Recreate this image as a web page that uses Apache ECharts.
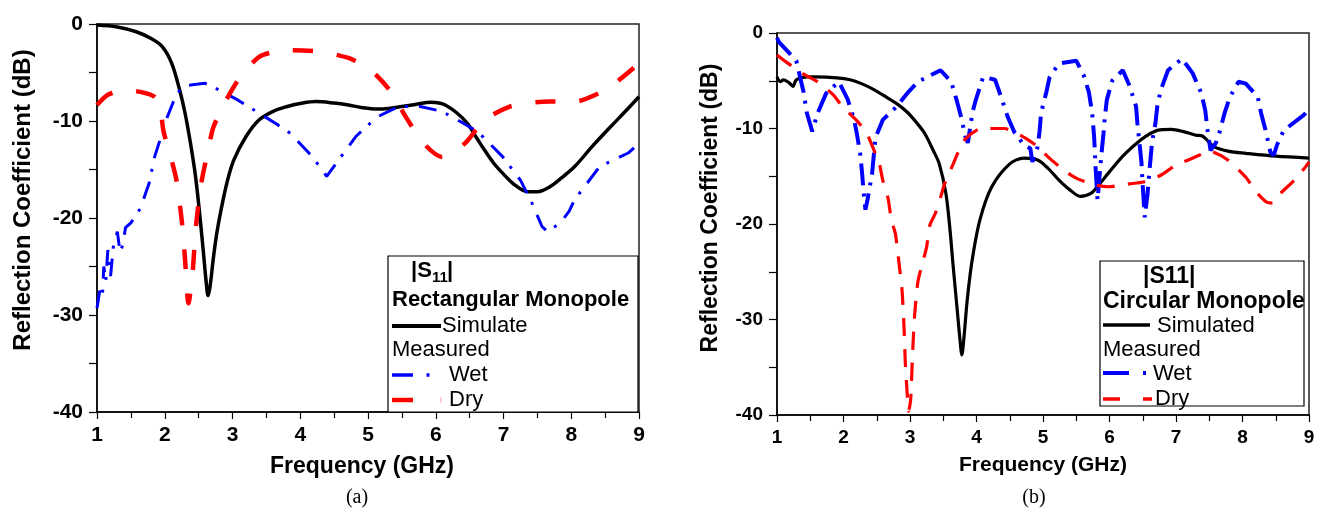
<!DOCTYPE html>
<html>
<head>
<meta charset="utf-8">
<script src="https://cdn.jsdelivr.net/npm/echarts@6/dist/echarts.min.js"></script>
<style>
  html, body { margin: 0; padding: 0; background: #fff; }
  #chart { width: 1323px; height: 515px; }
</style>
</head>
<body>
<div id="chart"></div>
<script>
// (a) rectangular monopole
const rectSimFreq = [1.0, 1.3, 1.58, 1.8, 1.96, 2.1, 2.22, 2.3, 2.38, 2.45, 2.51, 2.57, 2.61, 2.64, 2.67, 2.72, 2.77, 2.83, 2.92, 3.02, 3.2, 3.39, 3.6, 3.81, 4.0, 4.23, 4.5, 4.71, 4.9, 5.14, 5.3, 5.5, 5.7, 5.93, 6.05, 6.14, 6.3, 6.46, 6.6, 6.72, 6.85, 6.99, 7.15, 7.36, 7.5, 7.68, 7.85, 8.05, 8.3, 8.58, 8.8, 9.0]
const rectSimDb = [-0.1, -0.3, -0.8, -1.5, -2.3, -4.0, -6.8, -9.2, -12.3, -15.5, -19.2, -23.5, -26.5, -28.0, -27.0, -24.0, -21.5, -19.2, -16.3, -14.0, -11.6, -9.9, -9.0, -8.5, -8.2, -8.0, -8.15, -8.35, -8.6, -8.76, -8.7, -8.5, -8.3, -8.07, -8.15, -8.35, -9.1, -10.2, -11.7, -13.0, -14.3, -15.4, -16.5, -17.3, -17.3, -16.8, -15.9, -14.7, -12.7, -10.6, -9.0, -7.5]

const rectWetFreq = [1.0, 1.04, 1.08, 1.1, 1.13, 1.16, 1.2, 1.24, 1.3, 1.34, 1.38, 1.42, 1.5, 1.57, 1.64, 1.77, 1.85, 1.96, 2.02, 2.14, 2.25, 2.38, 2.59, 2.8, 3.07, 3.44, 3.65, 3.86, 4.18, 4.39, 4.6, 4.82, 5.13, 5.45, 5.77, 6.09, 6.4, 6.62, 6.99, 7.25, 7.41, 7.57, 7.65, 7.84, 7.97, 8.05, 8.42, 8.84, 9.0]
const rectWetDb = [-29.3, -27.5, -28.1, -25.0, -26.5, -23.3, -26.0, -23.0, -21.4, -23.5, -22.8, -21.0, -20.5, -19.8, -19.0, -16.4, -13.7, -11.3, -9.9, -7.8, -6.5, -6.3, -6.1, -6.8, -7.8, -9.4, -10.3, -11.3, -13.7, -15.7, -13.7, -11.6, -9.6, -8.5, -8.5, -9.0, -10.2, -11.1, -13.7, -16.1, -18.3, -20.9, -21.4, -20.5, -19.3, -18.1, -14.7, -13.3, -12.3]

const rectDryFreq = [1.0, 1.16, 1.4, 1.64, 1.85, 1.93, 1.98, 2.08, 2.17, 2.25, 2.3, 2.35, 2.41, 2.46, 2.54, 2.64, 2.72, 2.91, 3.12, 3.39, 3.6, 3.86, 4.29, 4.71, 4.95, 5.14, 5.35, 5.56, 5.82, 6.09, 6.25, 6.46, 6.72, 7.1, 7.4, 7.68, 8.05, 8.42, 8.7, 9.0]
const rectDryDb = [-8.35, -7.3, -6.8, -7.0, -7.5, -8.5, -11.0, -13.5, -16.0, -20.2, -24.3, -28.8, -25.7, -20.9, -16.4, -13.0, -10.6, -7.8, -5.4, -3.4, -2.9, -2.7, -2.85, -3.5, -4.3, -5.4, -7.1, -9.6, -12.3, -13.7, -13.3, -12.1, -9.9, -8.5, -8.1, -8.0, -8.0, -7.1, -5.8, -4.05]

// (b) circular monopole
const circSimFreq = [1.0, 1.05, 1.1, 1.18, 1.24, 1.28, 1.32, 1.45, 1.58, 1.9, 2.1, 2.27, 2.45, 2.64, 2.8, 2.96, 3.1, 3.22, 3.35, 3.44, 3.54, 3.6, 3.65, 3.71, 3.75, 3.78, 3.81, 3.86, 3.93, 4.05, 4.23, 4.5, 4.71, 4.92, 5.08, 5.24, 5.4, 5.56, 5.72, 5.85, 5.98, 6.2, 6.4, 6.55, 6.72, 6.93, 7.1, 7.3, 7.4, 7.57, 7.8, 8.05, 8.5, 9.0]
const circSimDb = [-4.6, -5.1, -4.9, -5.2, -5.6, -5.0, -4.8, -4.6, -4.6, -4.7, -4.9, -5.3, -5.9, -6.7, -7.4, -8.3, -9.4, -10.5, -12.3, -13.7, -16.8, -20.5, -24.5, -29.0, -32.0, -33.7, -32.0, -28.0, -24.0, -19.6, -16.1, -13.7, -13.1, -13.3, -14.2, -15.4, -16.4, -17.1, -16.8, -15.8, -14.7, -12.9, -11.6, -10.8, -10.2, -10.1, -10.3, -10.7, -10.8, -11.9, -12.4, -12.6, -12.9, -13.1]

const circWetFreq = [1.0, 1.03, 1.29, 1.4, 1.45, 1.53, 1.61, 1.74, 1.93, 2.06, 2.16, 2.2, 2.25, 2.28, 2.3, 2.33, 2.36, 2.43, 2.48, 2.59, 2.8, 2.96, 3.12, 3.46, 3.62, 3.7, 3.78, 3.83, 3.87, 3.94, 3.99, 4.1, 4.28, 4.36, 4.47, 4.57, 4.71, 4.81, 4.84, 4.92, 4.95, 4.97, 5.05, 5.1, 5.24, 5.5, 5.61, 5.69, 5.74, 5.77, 5.79, 5.82, 5.85, 5.88, 5.91, 5.93, 5.96, 6.04, 6.2, 6.3, 6.4, 6.42, 6.45, 6.48, 6.5, 6.53, 6.57, 6.6, 6.64, 6.69, 6.72, 6.77, 6.88, 7.09, 7.25, 7.38, 7.44, 7.47, 7.52, 7.6, 7.65, 7.73, 7.81, 7.94, 8.05, 8.23, 8.28, 8.34, 8.42, 8.47, 8.52, 8.62, 8.92, 9.0]
const circWetDb = [-0.5, -0.95, -2.9, -6.2, -8.4, -10.3, -8.4, -6.3, -5.1, -6.9, -9.1, -10.5, -12.6, -14.7, -16.5, -18.5, -17.5, -14.7, -11.0, -9.1, -7.7, -6.3, -5.1, -3.9, -5.1, -7.0, -9.1, -10.8, -11.5, -8.3, -7.0, -4.6, -4.9, -6.5, -8.8, -10.4, -11.7, -12.1, -13.5, -11.9, -10.2, -8.4, -6.2, -4.6, -3.2, -2.9, -4.4, -6.2, -8.4, -11.0, -14.0, -17.5, -15.0, -12.6, -10.5, -8.8, -7.0, -5.0, -3.9, -5.5, -7.7, -9.5, -11.5, -13.5, -16.0, -19.3, -17.0, -14.5, -11.4, -9.5, -7.6, -6.0, -3.9, -2.7, -4.2, -6.3, -8.1, -10.0, -12.3, -11.5, -10.5, -8.4, -6.7, -5.1, -5.3, -6.7, -8.4, -10.0, -12.5, -12.8, -11.7, -10.2, -8.6, -8.0]

const circDryFreq = [1.0, 1.13, 1.4, 1.61, 1.85, 1.98, 2.19, 2.35, 2.46, 2.54, 2.59, 2.67, 2.72, 2.78, 2.83, 2.88, 2.91, 2.93, 2.96, 2.98, 3.01, 3.04, 3.07, 3.12, 3.2, 3.25, 3.3, 3.38, 3.46, 3.52, 3.65, 3.73, 3.83, 4.07, 4.42, 4.71, 4.92, 5.08, 5.32, 5.5, 5.77, 5.98, 6.3, 6.51, 6.77, 6.96, 7.28, 7.52, 7.78, 8.05, 8.2, 8.36, 8.45, 8.57, 8.78, 8.95, 9.0]
const circDryDb = [-2.3, -3.0, -4.3, -5.1, -6.5, -7.7, -9.1, -10.5, -12.3, -13.7, -15.4, -17.3, -19.6, -21.0, -23.8, -26.9, -30.8, -34.6, -38.0, -39.6, -38.4, -33.4, -29.5, -26.0, -23.8, -22.4, -20.1, -18.9, -17.2, -15.8, -13.7, -12.4, -11.1, -10.0, -10.0, -10.9, -11.9, -13.0, -14.4, -15.2, -15.9, -16.1, -15.8, -15.6, -14.9, -14.0, -13.0, -12.4, -13.3, -15.1, -16.6, -17.7, -17.8, -16.8, -15.4, -14.0, -13.5]

const xTicks = [1, 9, 1]      // min, max, interval
const yTicks = [-40, 0, 10]

function zip(f, v) {
  return f.map((x, i) => [x, v[i]])
}

const SANS = '"Liberation Sans", Arial, sans-serif'

function makeX(gridIndex, size) {
  return {
    type: 'value', gridIndex: gridIndex,
    min: xTicks[0], max: xTicks[1], interval: xTicks[2],
    axisLine: { onZero: false, lineStyle: { color: '#000', width: 1.5 } },
    axisTick: { length: 7, lineStyle: { color: '#000', width: 1.2 } },
    minorTick: { show: true, splitNumber: 2, length: 6, lineStyle: { color: '#000', width: 1.2 } },
    splitLine: { show: false },
    axisLabel: { color: '#000', fontWeight: 'bold', fontSize: size, fontFamily: SANS, margin: 13 }
  }
}

function makeY(gridIndex, size) {
  return {
    type: 'value', gridIndex: gridIndex,
    min: yTicks[0], max: yTicks[1], interval: yTicks[2],
    axisLine: { show: true, onZero: false, lineStyle: { color: '#000', width: 1.5 } },
    axisTick: { show: true, length: 8, lineStyle: { color: '#000', width: 1.2 } },
    minorTick: { show: true, splitNumber: 2, length: 8, lineStyle: { color: '#000', width: 1.2 } },
    splitLine: { show: false },
    axisLabel: { color: '#000', fontWeight: 'bold', fontSize: size, fontFamily: SANS, margin: 14 }
  }
}

function line(name, xi, data, color, width, type, smooth) {
  return {
    name: name, type: 'line', xAxisIndex: xi, yAxisIndex: xi,
    data: data, showSymbol: false, symbol: 'none', smooth: smooth,
    lineStyle: { color: color, width: width, type: type, cap: 'butt' },
    itemStyle: { color: color }
  }
}

function txt(text, x, y, size, weight, align) {
  return {
    type: 'text', z: 100,
    style: {
      text: text, x: x, y: y, fill: '#000',
      font: weight + ' ' + size + 'px ' + SANS,
      textAlign: align || 'left', textVerticalAlign: 'middle'
    }
  }
}

// rotated text: position on the element, rotate around it
function vtxt(text, x, y, size) {
  return {
    type: 'text', z: 100, x: x, y: y, rotation: Math.PI / 2,
    style: {
      text: text, x: 0, y: 0, fill: '#000',
      font: 'bold ' + size + 'px ' + SANS,
      textAlign: 'center', textVerticalAlign: 'middle'
    }
  }
}

function seg(x1, y1, x2, y2, color, w) {
  return { type: 'line', z: 100, shape: { x1: x1, y1: y1, x2: x2, y2: y2 }, style: { stroke: color, lineWidth: w } }
}

const chartDom = document.getElementById('chart')
const myChart = echarts.init(chartDom)

const option = {
  animation: false,
  backgroundColor: '#fff',
  grid: [
    { left: 97, top: 24, width: 542, height: 388, show: true, borderColor: '#222', borderWidth: 1.5 },
    { left: 777, top: 33, width: 532, height: 382, show: true, borderColor: '#222', borderWidth: 1.5 }
  ],
  xAxis: [makeX(0, 21), makeX(1, 19)],
  yAxis: [makeY(0, 21), makeY(1, 19)],
  series: [
    line('Simulate', 0, zip(rectSimFreq, rectSimDb), '#000', 3.5, 'solid', 0.35),
    line('Wet', 0, zip(rectWetFreq, rectWetDb), '#0000ff', 3, [18, 10, 3, 11], false),
    line('Dry', 0, zip(rectDryFreq, rectDryDb), '#ff0000', 4.5, [20, 24], 0.25),
    line('Simulated', 1, zip(circSimFreq, circSimDb), '#000', 3.2, 'solid', 0.3),
    line('Wet', 1, zip(circWetFreq, circWetDb), '#0000ff', 4, [22, 8, 3, 8], false),
    line('Dry', 1, zip(circDryFreq, circDryDb), '#ff0000', 3.2, [18, 13], 0.2)
  ],
  graphic: [
    // axis names
    txt('Frequency (GHz)', 362, 467, 23, 'bold', 'center'),
    txt('Frequency (GHz)', 1043, 465, 21, 'bold', 'center'),
    vtxt('Reflection Coefficient (dB)', 23, 200, 24),
    vtxt('Reflection Coefficient (dB)', 711, 208, 23),
    // captions
    { type: 'text', z: 100, style: { text: '(a)', x: 357, y: 498, font: '20px "Liberation Serif", "Times New Roman", serif', fill: '#000', textAlign: 'center', textVerticalAlign: 'middle' } },
    { type: 'text', z: 100, style: { text: '(b)', x: 1034, y: 498, font: '20px "Liberation Serif", "Times New Roman", serif', fill: '#000', textAlign: 'center', textVerticalAlign: 'middle' } },

    // legend (a)
    { type: 'rect', z: 90, shape: { x: 388, y: 256, width: 250, height: 156 }, style: { fill: '#fff', stroke: '#000', lineWidth: 1.2 } },
    txt('|S', 411, 271, 22, 'bold'),
    txt('11', 432, 278, 15, 'bold'),
    txt('|', 447, 271, 22, 'bold'),
    txt('Rectangular Monopole', 392, 300, 22, 'bold'),
    seg(392, 326, 441, 326, '#000', 4),
    txt('Simulate', 442, 326, 22, 'normal'),
    txt('Measured', 392, 350, 22, 'normal'),
    seg(392, 375, 413, 375, '#0000ff', 3.5),
    seg(426.5, 375, 429.5, 375, '#0000ff', 3.5),
    txt('Wet', 449, 375, 22, 'normal'),
    seg(392, 400, 413, 400, '#ff0000', 4.5),
    seg(441, 397.5, 441, 402.5, '#ff9999', 1),
    txt('Dry', 449, 400, 22, 'normal'),

    // legend (b)
    { type: 'rect', z: 90, shape: { x: 1100, y: 261, width: 204, height: 145 }, style: { fill: '#fff', stroke: '#000', lineWidth: 1.2 } },
    txt('|S11|', 1143, 277, 23, 'bold'),
    txt('Circular Monopole', 1103, 302, 23, 'bold'),
    seg(1103, 325, 1150, 325, '#000', 3.5),
    txt('Simulated', 1157, 326, 22, 'normal'),
    txt('Measured', 1103, 350, 22, 'normal'),
    seg(1103, 373, 1129, 373, '#0000ff', 4),
    seg(1143, 373, 1146, 373, '#0000ff', 4),
    txt('Wet', 1153, 374, 22, 'normal'),
    seg(1103, 399, 1120, 399, '#ff0000', 3.5),
    seg(1143, 399, 1152, 399, '#ff0000', 3.5),
    txt('Dry', 1155, 399, 22, 'normal')
  ]
}

option && myChart.setOption(option)
</script>
</body>
</html>
